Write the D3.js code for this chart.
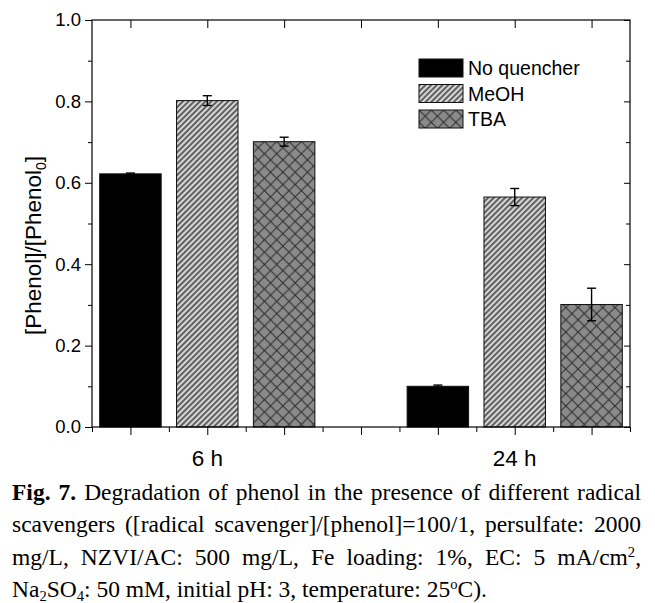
<!DOCTYPE html>
<html>
<head>
<meta charset="utf-8">
<script src="https://cdn.jsdelivr.net/npm/d3@7"></script>
<style>
  html, body { margin: 0; padding: 0; background: #fff; }
  svg { display: block; }
</style>
</head>
<body>
<svg id="chart" width="655" height="603"></svg>
<script>
// ---- data ----
const groups = ["6 h", "24 h"];
const seriesNames = ["No quencher", "MeOH", "TBA"];
const noQuencher = [0.622, 0.100];
const noQuencherErr = [0.002, 0.003];
const meoh = [0.802, 0.565];
const meohErr = [0.012, 0.021];
const tba = [0.701, 0.301];
const tbaErr = [0.011, 0.040];
const yTicks = [0, 0.2, 0.4, 0.6, 0.8, 1.0];
const yLabel = "[Phenol]/[Phenol";
const yLabelSub = "0";

const seriesValues = [noQuencher, meoh, tba];
const seriesErrs = [noQuencherErr, meohErr, tbaErr];

// ---- layout ----
const svg = d3.select("#chart");
const L = 92, R = 630, T = 20, B = 427;
const slot = d3.scaleLinear().domain([0.5, 7.5]).range([L, R]);
const y = d3.scaleLinear().domain([0, 1]).range([B, T]);
const pos = (g, s) => g * 4 + s + 1;

// ---- patterns ----
const defs = svg.append("defs");
const p1 = defs.append("pattern").attr("id", "hatch").attr("patternUnits", "userSpaceOnUse")
  .attr("width", 4).attr("height", 4).attr("patternTransform", "rotate(45)");
p1.append("rect").attr("width", 4).attr("height", 4).attr("fill", "#d6d6d6");
p1.append("line").attr("x1", 1).attr("x2", 1).attr("y1", 0).attr("y2", 4)
  .attr("stroke", "#111").attr("stroke-width", 1.2);

const p2 = defs.append("pattern").attr("id", "cross").attr("patternUnits", "userSpaceOnUse")
  .attr("width", 12.3).attr("height", 12.3);
p2.append("rect").attr("width", 12.3).attr("height", 12.3).attr("fill", "#8a8a8a");
p2.append("path").attr("d", "M0,0L12.3,12.3M12.3,0L0,12.3M-1,11.3L1,13.3M11.3,-1L13.3,1")
  .attr("stroke", "#2a2a2a").attr("stroke-width", 1);

const fills = ["#000", "url(#hatch)", "url(#cross)"];

// ---- bars ----
const barW = slot(1.8) - slot(1);
const bars = [];
groups.forEach((gName, g) => {
  seriesNames.forEach((sName, s) => {
    bars.push({ g, s, v: seriesValues[s][g], e: seriesErrs[s][g] });
  });
});
svg.append("g").selectAll("rect").data(bars).join("rect")
  .attr("x", d => slot(pos(d.g, d.s)) - barW / 2)
  .attr("y", d => y(d.v))
  .attr("width", barW)
  .attr("height", d => y(0) - y(d.v))
  .attr("fill", d => fills[d.s])
  .attr("stroke", "#111").attr("stroke-width", 1);

// error bars
const eg = svg.append("g").attr("stroke", "#000").attr("stroke-width", 1.4).attr("fill", "none");
bars.forEach(d => {
  const cx = slot(pos(d.g, d.s));
  eg.append("line").attr("x1", cx).attr("x2", cx).attr("y1", y(d.v - d.e)).attr("y2", y(d.v + d.e));
  [d.v - d.e, d.v + d.e].forEach(v => {
    eg.append("line").attr("x1", cx - 4.5).attr("x2", cx + 4.5).attr("y1", y(v)).attr("y2", y(v));
  });
});

// ---- axes ----
const font = "'Liberation Sans', Arial, sans-serif";
function styleAxis(g) {
  g.select(".domain").remove();
  g.selectAll("line").attr("stroke", "#000").attr("stroke-width", 1);
}
const majorX = d3.range(1, 8);
const minorX = d3.range(0.5, 8, 1);
const minorY = d3.range(0.1, 1, 0.2);

svg.append("g").attr("transform", `translate(0,${B})`)
  .call(d3.axisBottom(slot).tickValues(majorX).tickSize(8).tickFormat(""))
  .call(styleAxis);
svg.append("g").attr("transform", `translate(0,${B})`)
  .call(d3.axisBottom(slot).tickValues(minorX).tickSize(5).tickFormat(""))
  .call(styleAxis);
svg.append("g").attr("transform", `translate(0,${T})`)
  .call(d3.axisBottom(slot).tickValues(majorX).tickSize(8).tickFormat(""))
  .call(styleAxis);

const yAx = svg.append("g").attr("transform", `translate(${L},0)`)
  .call(d3.axisLeft(y).tickValues(yTicks).tickSize(7).tickPadding(4).tickFormat(d3.format(".1f")))
  .call(styleAxis);
yAx.selectAll("text").attr("font-family", font).attr("font-size", 18.5).attr("fill", "#000");
svg.append("g").attr("transform", `translate(${L},0)`)
  .call(d3.axisLeft(y).tickValues(minorY).tickSize(4).tickFormat(""))
  .call(styleAxis);
svg.append("g").attr("transform", `translate(${R},0)`)
  .call(d3.axisRight(y).tickValues(yTicks).tickSize(-6).tickFormat(""))
  .call(styleAxis);
svg.append("g").attr("transform", `translate(${R},0)`)
  .call(d3.axisRight(y).tickValues(minorY).tickSize(-4).tickFormat(""))
  .call(styleAxis);

// frame
svg.append("rect").attr("x", L).attr("y", T).attr("width", R - L).attr("height", B - T)
  .attr("fill", "none").attr("stroke", "#000").attr("stroke-width", 1.2);

// group labels
svg.append("g").selectAll("text").data(groups).join("text")
  .attr("x", (d, g) => slot(pos(g, 1)))
  .attr("y", 466)
  .attr("text-anchor", "middle")
  .attr("font-family", font).attr("font-size", 22.5)
  .text(d => d);

// y label
const yl = svg.append("text")
  .attr("transform", `translate(41,${(T + B) / 2 + 22}) rotate(-90)`)
  .attr("text-anchor", "middle")
  .attr("font-family", font).attr("font-size", 22.5);
yl.append("tspan").text(yLabel);
yl.append("tspan").attr("font-size", 14).attr("dy", 5).text(yLabelSub);
yl.append("tspan").attr("dy", -5).text("]");

// legend
const lg = svg.append("g").attr("transform", "translate(419,59)");
seriesNames.forEach((name, i) => {
  const row = lg.append("g").attr("transform", `translate(0,${i * 25.5})`);
  row.append("rect").attr("width", 44).attr("height", 18)
    .attr("fill", fills[i]).attr("stroke", "#111").attr("stroke-width", 1);
  row.append("text").attr("x", 49).attr("y", 16)
    .attr("font-family", font).attr("font-size", 19.5).text(name);
});

// ---- caption ----
const serif = "'Liberation Serif', 'Times New Roman', serif";
const capLines = [
  { parts: [["b", "Fig. 7."], ["n", " Degradation of phenol in the presence of different radical"]], justify: true },
  { parts: [["n", "scavengers ([radical scavenger]/[phenol]=100/1, persulfate: 2000"]], justify: true },
  { parts: [["n", "mg/L, NZVI/AC: 500 mg/L, Fe loading: 1%, EC: 5 mA/cm"], ["sup", "2"], ["n", ","]], justify: true },
  { parts: [["n", "Na"], ["sub", "2"], ["n", "SO"], ["sub", "4"], ["n", ": 50 mM, initial pH: 3, temperature: 25"], ["sup", "o"], ["n", "C)."]], justify: false }
];
const capX = 12, capRight = 641, capY0 = 499.5, capDy = 32.5, capSize = 23.5;
capLines.forEach((ln, i) => {
  const t = svg.append("text")
    .attr("x", capX).attr("y", capY0 + i * capDy)
    .attr("font-family", serif).attr("font-size", capSize).attr("fill", "#000");
  let shift = 0;
  ln.parts.forEach(([k, s]) => {
    const sp = t.append("tspan").text(s);
    let want = 0;
    if (k === "b") sp.attr("font-weight", "bold");
    if (k === "sup") { want = -8; sp.attr("font-size", capSize * 0.62); }
    if (k === "sub") { want = 4; sp.attr("font-size", capSize * 0.62); }
    if (want !== shift) { sp.attr("dy", want - shift); shift = want; }
  });
  const w = t.node().getComputedTextLength();
  if (ln.justify) {
    const target = capRight - capX;
    const txt = ln.parts.map(p => p[1]).join("");
    const nSp = (txt.match(/ /g) || []).length;
    if (w < target) {
      t.style("word-spacing", ((target - w) / nSp) + "px");
    } else {
      t.attr("transform", `translate(${capX},0) scale(${target / w},1) translate(${-capX},0)`);
    }
  }
});
</script>
</body>
</html>
